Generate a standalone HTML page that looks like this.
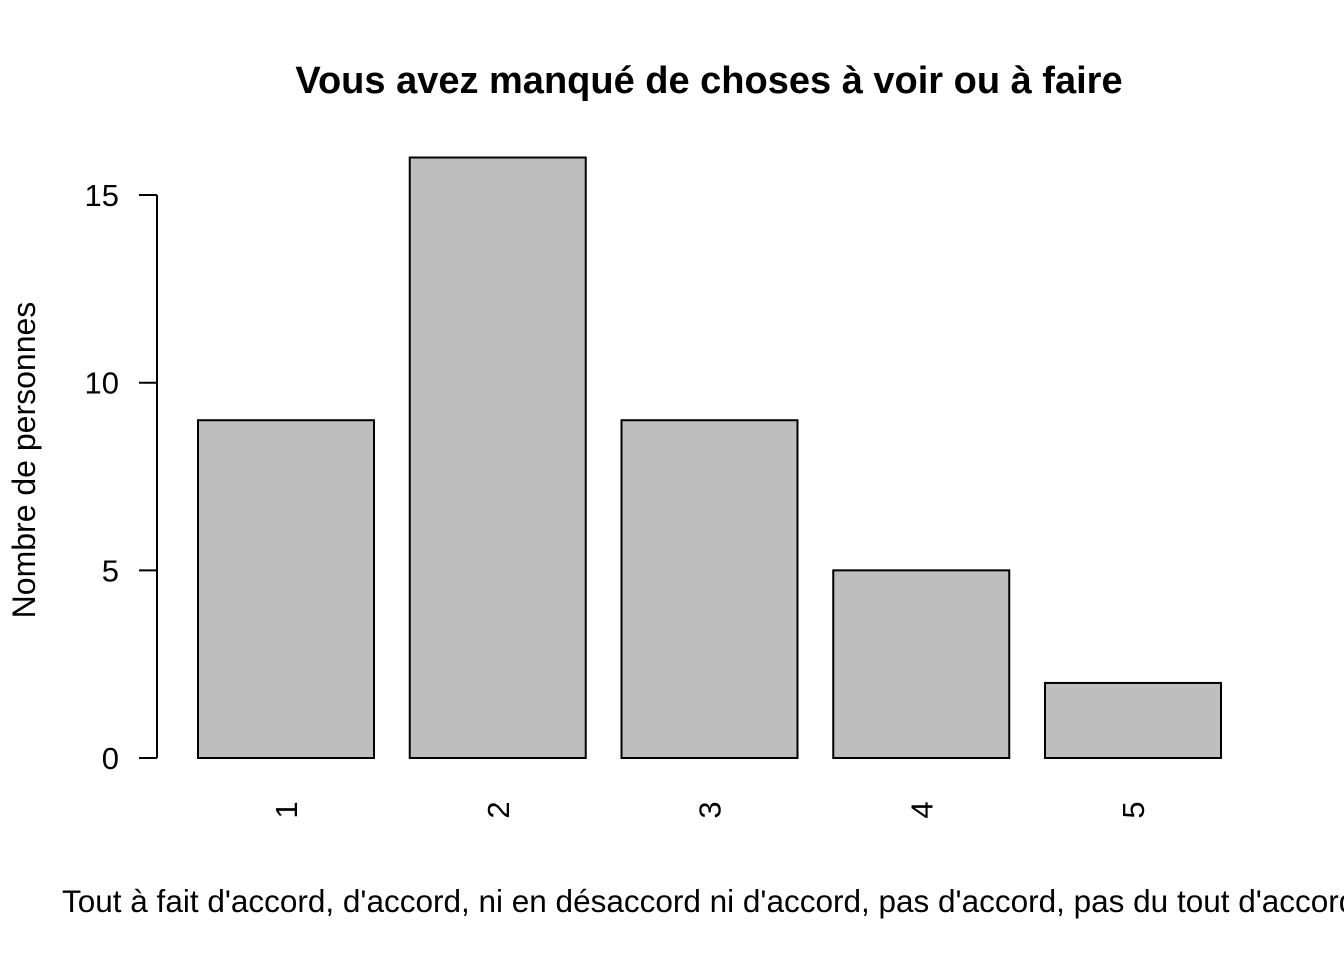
<!DOCTYPE html>
<html><head><meta charset="utf-8"><style>
body{margin:0;background:#fff;}
svg{display:block;font-family:"Liberation Sans",Arial,sans-serif;}
</style></head><body>
<svg id="chart" width="1344" height="960">
<text x="709" y="93" text-anchor="middle" font-size="38" font-weight="bold">Vous avez manqué de choses à voir ou à faire</text>
<text transform="translate(35,460) rotate(-90)" text-anchor="middle" font-size="32">Nombre de personnes</text>
<text x="62" y="912" font-size="31.5">Tout à fait d'accord, d'accord, ni en désaccord ni d'accord, pas d'accord, pas du tout d'accord</text>
<g id="bars"></g><g id="yaxis"></g><g id="xlabels"></g>
</svg>
<script>
const categories = ["1","2","3","4","5"];
const values = [9,16,9,5,2];
const yTicks = [0,5,10,15];
const NS="http://www.w3.org/2000/svg";
function y(v){return 758 - v*37.53;}
function xStart(i){return 198 + i*211.75;}
const barW=176;
const bars=document.getElementById('bars');
const xl=document.getElementById('xlabels');
values.forEach((v,i)=>{
  const r=document.createElementNS(NS,'rect');
  r.setAttribute('x',xStart(i));r.setAttribute('y',y(v));
  r.setAttribute('width',barW);r.setAttribute('height',y(0)-y(v));
  r.setAttribute('fill','#bebebe');r.setAttribute('stroke','#000');r.setAttribute('stroke-width','2');
  
  
  bars.appendChild(r);
  const t=document.createElementNS(NS,'text');
  const cx=xStart(i)+barW/2;
  t.setAttribute('transform','translate('+(cx+11)+',810) rotate(-90)');
  t.setAttribute('text-anchor','middle');t.setAttribute('font-size','31');
  t.textContent=categories[i];
  
  
  xl.appendChild(t);
});
const ya=document.getElementById('yaxis');
const ax=document.createElementNS(NS,'line');
ax.setAttribute('x1',157);ax.setAttribute('x2',157);
ax.setAttribute('y1',y(yTicks[yTicks.length-1]));ax.setAttribute('y2',y(0));
ax.setAttribute('stroke','#000');ax.setAttribute('stroke-width','2');


ya.appendChild(ax);
yTicks.forEach(v=>{
  const l=document.createElementNS(NS,'line');
  l.setAttribute('x1',139);l.setAttribute('x2',157);l.setAttribute('y1',y(v));l.setAttribute('y2',y(v));
  l.setAttribute('stroke','#000');l.setAttribute('stroke-width','2');
  
  
  ya.appendChild(l);
  const t=document.createElementNS(NS,'text');
  t.setAttribute('x',119);t.setAttribute('y',y(v)+11);t.setAttribute('text-anchor','end');
  t.setAttribute('font-size','31');t.textContent=v;
  
  
  ya.appendChild(t);
});
</script>
</body></html>
